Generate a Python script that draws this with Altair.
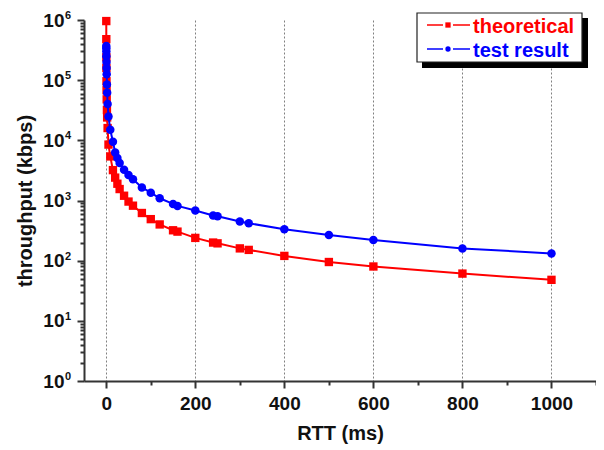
import altair as alt
import pandas as pd

# ---- data ----
rtt = [0.05, 0.1, 0.2, 0.3, 0.5, 0.7, 1, 1.5, 2, 3, 5, 9, 15, 20, 25, 30, 40, 50,
       60, 80, 100, 120, 150, 160, 200, 240, 250, 300, 320, 400, 500, 600, 800, 1000]
theoretical = [960000, 480000, 240000, 160000, 96000, 68000, 48000, 32000, 24000,
               16000, 8500, 5400, 3200, 2400, 1900, 1550, 1200, 960, 820, 620, 490,
               400, 320, 304, 239, 200, 194, 160, 151, 120, 95, 80, 61, 48]
test_result = [370000, 340000, 300000, 250000, 200000, 160000, 125000, 85000, 62000,
               40000, 25000, 15000, 9500, 6300, 5100, 4200, 3250, 2650, 2250, 1650,
               1350, 1090, 877, 813, 681, 562, 548, 447, 419, 333, 268, 221, 160, 132]
series_names = ["theoretical", "test result"]
series_colors = ["#ff0000", "#0000ff"]

x_ticks = [0, 100, 200, 300, 400, 500, 600, 700, 800, 900, 1000, 1100]
decades = [1, 10, 100, 1000, 10000, 100000]
mantissas = [1, 2, 3, 4, 5, 6, 7, 8, 9]
y_ticks = [m * d for d in decades for m in mantissas] + [1000000]
y_major = [1, 10, 100, 1000, 10000, 100000, 1000000]
y_exponents = ["0", "1", "2", "3", "4", "5", "6"]

FONT = "Liberation Sans"

df_t = pd.DataFrame({"rtt": rtt, "value": theoretical})
df_r = pd.DataFrame({"rtt": rtt, "value": test_result})
df_sup = pd.DataFrame({"value": y_major, "sup": y_exponents})

is_major_x = "datum.value % 200 == 0 && datum.value <= 1000"
is_major_y = "abs(log(datum.value)/LN10 - round(log(datum.value)/LN10)) < 0.001"

x_axis = alt.Axis(
    values=x_ticks, format="d",
    labelExpr=f"({is_major_x}) ? datum.label : ''",
    tickSize={"condition": {"test": is_major_x, "value": 7}, "value": 4},
    grid=True, gridDash=[2, 2], gridColor="#808080", gridWidth=1,
    gridOpacity={"condition": {"test": is_major_x, "value": 1}, "value": 0},
    domainColor="#333333", domainWidth=2, tickColor="#333333", tickWidth=2,
    labelFont=FONT, labelFontSize=19, labelFontWeight="bold", labelColor="#111111",
    labelPadding=6, labelFlush=False, labelOverlap=False,
    titleFont=FONT, titleFontSize=20, titleFontWeight="bold", titleColor="#111111",
    titlePadding=10,
)
y_axis = alt.Axis(
    values=y_ticks,
    labelExpr=f"({is_major_y}) ? '10' : ''",
    tickSize={"condition": {"test": is_major_y, "value": 7}, "value": 4},
    grid=False,
    domainColor="#333333", domainWidth=2, tickColor="#333333", tickWidth=2,
    labelFont=FONT, labelFontSize=19, labelFontWeight="bold", labelColor="#111111",
    labelPadding=13, labelOverlap=False, labelFlush=False,
    titleFont=FONT, titleFontSize=20, titleFontWeight="bold", titleColor="#111111",
    titlePadding=7,
)

X = alt.X("rtt:Q", scale=alt.Scale(domain=[-50, 1100], nice=False, zero=False),
          axis=x_axis, title="RTT (ms)")
Y = alt.Y("value:Q", scale=alt.Scale(type="log", domain=[1, 1000000], nice=False),
          axis=y_axis, title="throughput (kbps)")

red_line = alt.Chart(df_t).mark_line(color=series_colors[0], strokeWidth=2).encode(x=X, y=Y)
red_pts = alt.Chart(df_t).mark_point(shape="square", filled=True, opacity=1,
                                     color=series_colors[0], size=70).encode(x=X, y=Y)
blue_line = alt.Chart(df_r).mark_line(color=series_colors[1], strokeWidth=2).encode(x=X, y=Y)
blue_pts = alt.Chart(df_r).mark_point(shape="circle", filled=True, opacity=1,
                                      color=series_colors[1], size=72).encode(x=X, y=Y)

# superscript exponents of the y tick labels
sup = alt.Chart(df_sup).mark_text(
    align="left", baseline="alphabetic", font=FONT, fontSize=11, fontWeight="bold",
    color="#111111", dy=-1).encode(x=alt.value(-19), y=Y, text="sup:N")

# ---- legend box (drawn by hand, with drop shadow) ----
one = pd.DataFrame({"a": [0]})
shadow = alt.Chart(one).mark_rect(color="#000000").encode(
    x=alt.value(338), x2=alt.value(504), y=alt.value(-2), y2=alt.value(48))
box = alt.Chart(one).mark_rect(fill="#ffffff", stroke="#222222", strokeWidth=1.2).encode(
    x=alt.value(333), x2=alt.value(498), y=alt.value(-7), y2=alt.value(42))

legend_layers = []
for i, (name, col, shp) in enumerate(zip(series_names, series_colors, ["square", "circle"])):
    ym = 5 + 24 * i
    for xa, xb in [(343, 359), (369, 386)]:
        legend_layers.append(alt.Chart(one).mark_rule(color=col, strokeWidth=1.5).encode(
            x=alt.value(xa), x2=alt.value(xb), y=alt.value(ym)))
    legend_layers.append(alt.Chart(one).mark_point(shape=shp, filled=True, opacity=1,
                                                   color=col, size=28).encode(
        x=alt.value(364), y=alt.value(ym)))
    legend_layers.append(alt.Chart(one).mark_text(
        align="left", baseline="alphabetic", font=FONT, fontSize=20, fontWeight="bold",
        color=col).encode(x=alt.value(389), y=alt.value(13 + 24 * i), text=alt.value(name)))

chart = alt.layer(red_line, red_pts, blue_line, blue_pts, sup, shadow, box,
                  *legend_layers).properties(
    width=512, height=361,
    autosize=alt.AutoSizeParams(type="none"),
    padding={"left": 76, "top": 12, "right": 0, "bottom": 68},
).configure_view(stroke=None)

chart.save("out.html", embed_options={"renderer": "svg", "actions": False})
